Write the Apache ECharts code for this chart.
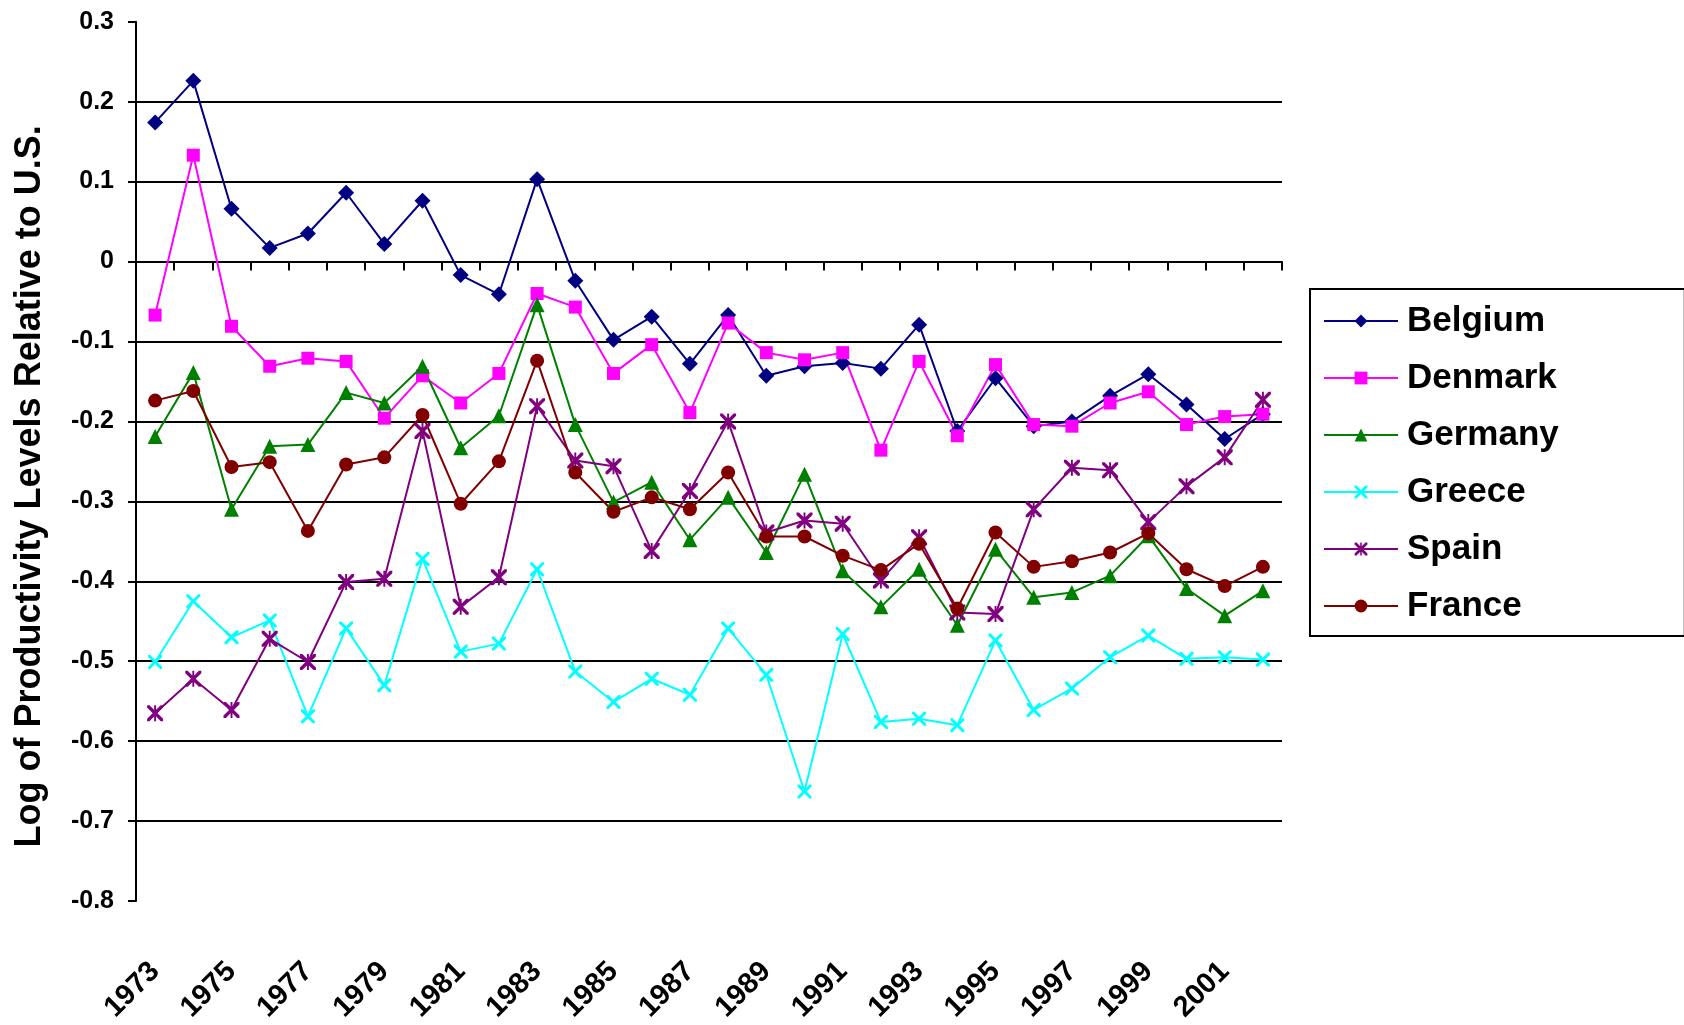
<!DOCTYPE html>
<html>
<head>
<meta charset="utf-8">
<script src="https://cdn.jsdelivr.net/npm/echarts@6/dist/echarts.min.js"></script>
<style>
html,body{margin:0;padding:0;background:#fff;}
#chart{width:1684px;height:1025px;}
</style>
</head>
<body>
<div id="chart"></div>
<script>
const years = ['1973','1974','1975','1976','1977','1978','1979','1980','1981','1982',
  '1983','1984','1985','1986','1987','1988','1989','1990','1991','1992',
  '1993','1994','1995','1996','1997','1998','1999','2000','2001','2002'];

const belgium = [0.174,0.226,0.066,0.017,0.035,0.086,0.022,0.076,-0.017,-0.041,
  0.103,-0.024,-0.098,-0.069,-0.128,-0.067,-0.143,-0.131,-0.127,-0.134,
  -0.079,-0.212,-0.146,-0.206,-0.200,-0.168,-0.141,-0.179,-0.222,-0.191];

const denmark = [-0.067,0.133,-0.081,-0.131,-0.121,-0.125,-0.196,-0.143,-0.177,-0.140,
  -0.040,-0.057,-0.140,-0.104,-0.189,-0.077,-0.114,-0.123,-0.114,-0.236,
  -0.125,-0.218,-0.129,-0.204,-0.206,-0.177,-0.163,-0.204,-0.194,-0.191];

const germany = [-0.219,-0.139,-0.310,-0.231,-0.229,-0.164,-0.177,-0.131,-0.233,-0.193,
  -0.054,-0.204,-0.301,-0.276,-0.348,-0.295,-0.364,-0.266,-0.387,-0.432,
  -0.385,-0.455,-0.360,-0.420,-0.414,-0.393,-0.343,-0.409,-0.443,-0.412];

const greece = [-0.501,-0.425,-0.470,-0.449,-0.569,-0.459,-0.530,-0.372,-0.488,-0.478,
  -0.385,-0.513,-0.551,-0.522,-0.542,-0.459,-0.517,-0.663,-0.466,-0.576,
  -0.572,-0.580,-0.474,-0.561,-0.534,-0.495,-0.468,-0.497,-0.495,-0.498];

const spain = [-0.565,-0.522,-0.561,-0.472,-0.501,-0.401,-0.397,-0.212,-0.432,-0.395,
  -0.181,-0.249,-0.256,-0.362,-0.287,-0.200,-0.339,-0.324,-0.328,-0.399,
  -0.345,-0.439,-0.441,-0.310,-0.258,-0.261,-0.326,-0.281,-0.245,-0.173];

const france = [-0.174,-0.162,-0.257,-0.251,-0.337,-0.254,-0.245,-0.192,-0.303,-0.250,
  -0.124,-0.264,-0.313,-0.295,-0.310,-0.264,-0.344,-0.344,-0.368,-0.386,
  -0.353,-0.434,-0.339,-0.382,-0.375,-0.364,-0.340,-0.385,-0.406,-0.382];

const seriesNames = ['Belgium','Denmark','Germany','Greece','Spain','France'];
const yTitle = 'Log of Productivity Levels Relative to U.S.';

const X_SYM = 'path://M0,0L3,0L10,7L17,0L20,0L20,3L13,10L20,17L20,20L17,20L10,13L3,20L0,20L0,17L7,10L0,3Z';
const STAR_SYM = 'path://M0,0L3,0L10,7L17,0L20,0L20,3L13,10L20,17L20,20L17,20L10,13L3,20L0,20L0,17L7,10L0,3Z M8.8,0L11.2,0L11.2,20L8.8,20Z';

const styles = [
  {color:'#000080', symbol:'diamond', size:16},
  {color:'#ff00ff', symbol:'rect', size:13},
  {color:'#008000', symbol:'triangle', size:15},
  {color:'#00ffff', symbol:X_SYM, size:14},
  {color:'#800080', symbol:STAR_SYM, size:16},
  {color:'#800000', symbol:'circle', size:14}
];
const allData = [belgium, denmark, germany, greece, spain, france];

const FONT = '"Liberation Sans", Arial, sans-serif';

const chart = echarts.init(document.getElementById('chart'), null, {renderer:'canvas'});
chart.setOption({
  animation: false,
  backgroundColor: '#ffffff',
  grid: {left:136, top:21.7, right:402, bottom:122.3, containLabel:false},
  legend: {
    orient: 'vertical',
    left: 1310, top: 289,
    padding: [14, 126, 12, 13],
    borderColor: '#000', borderWidth: 2,
    itemWidth: 74, itemHeight: 16, itemGap: 21,
    textStyle: {fontFamily: FONT, fontWeight:'bold', fontSize:35, color:'#000', lineHeight:36, padding:[0,0,0,4]},
    data: seriesNames
  },
  xAxis: [
    {
      type:'category', data: years, position:'bottom', boundaryGap:true,
      axisLine:{show:false, onZero:false},
      axisTick:{show:false},
      axisLabel:{interval:1, rotate:45, margin:66, fontFamily:FONT, fontWeight:'bold', fontSize:29, color:'#000'},
      splitLine:{show:false}
    },
    {
      type:'category', data: years, position:'top', boundaryGap:true,
      axisLine:{show:true, onZero:true, lineStyle:{color:'#000', width:2}},
      axisTick:{show:true, inside:true, length:9, interval:0, lineStyle:{color:'#000', width:2}},
      axisLabel:{show:false},
      splitLine:{show:false}
    }
  ],
  yAxis: {
    type:'value', min:-0.8, max:0.3, interval:0.1,
    name: yTitle, nameLocation:'middle', nameGap:88,
    nameTextStyle:{fontFamily:FONT, fontWeight:'bold', fontSize:36, color:'#000', padding:[0,50,0,0]},
    axisLine:{show:true, onZero:false, lineStyle:{color:'#000', width:2}},
    axisTick:{show:true, length:8, lineStyle:{color:'#000', width:2}},
    axisLabel:{margin:22, fontFamily:FONT, fontWeight:'bold', fontSize:25, color:'#000',
      formatter: v => { const r = Math.round(v*10)/10; return r === 0 ? '0' : String(r); }},
    splitLine:{show:true, showMinLine:false, showMaxLine:false, lineStyle:{color:'#000', width:2}}
  },
  series: seriesNames.map((n,i) => ({
    name:n, type:'line', xAxisIndex:0, data: allData[i],
    symbol: styles[i].symbol, symbolSize: styles[i].size, showAllSymbol:true,
    lineStyle:{color:styles[i].color, width:2},
    itemStyle:{color:styles[i].color},
    emphasis:{disabled:true}
  }))
});
</script>
</body>
</html>
